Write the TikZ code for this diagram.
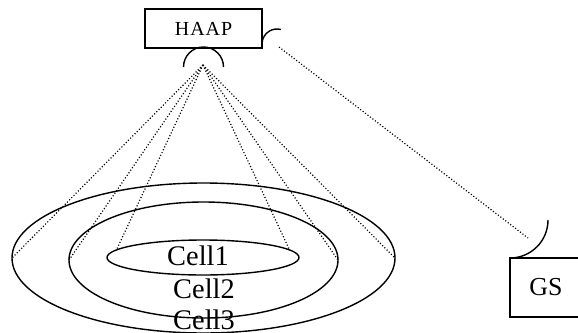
\documentclass[tikz,border=0pt]{standalone}
\usepackage{fontspec}
\setmainfont{Liberation Serif}
\usetikzlibrary{shapes.geometric}

\begin{document}
\begin{tikzpicture}[x=1bp, y=1bp,
    cell/.style={draw, ellipse, line width=1.4bp, inner sep=0pt, outer sep=0pt},
    station/.style={draw, rectangle, line width=1.4bp, inner sep=0pt, outer sep=0pt},
    celltext/.style={anchor=base, inner sep=0pt, font=\fontsize{28.5}{30}\selectfont},
    beam/.style={line width=1.2bp, dash pattern=on 1.1bp off 2bp},
    dish/.style={line width=1.4bp}]
  \useasboundingbox (0,0) rectangle (578,332);

  % cells
  \node[cell, minimum width=383bp, minimum height=150bp] (cellC) at (203.5,74) {};
  \node[cell, minimum width=269bp, minimum height=116bp] (cellB) at (203.5,72) {};
  \node[cell, minimum width=192bp, minimum height=35bp] (cellA) at (203,74.5) {};
  \node[celltext] (lblA) at (198,67) {Cell1};
  \node[celltext] (lblB) at (204,34) {Cell2};
  \node[celltext] (lblC) at (204,3) {Cell3};

  % stations
  \node[station, minimum width=117bp, minimum height=39bp,
        font=\fontsize{20}{22}\selectfont\addfontfeatures{LetterSpace=5}] (haap) at (203.5,303.5) {HAAP};
  \node[station, minimum width=72bp, minimum height=59bp,
        font=\fontsize{26}{28}\selectfont] (gs) at (546,44.5) {GS};

  % antennas
  \draw[dish] (haap.south) ++(-20bp,-19bp) arc (180:0:20bp);
  \draw[dish] ([yshift=4bp]haap.south east) arc (180:75:15bp);
  \draw[dish] (gs.north west) arc (270:360:38bp);

  % beams
  \coordinate (apex) at (203,267);
  \foreach \t in {cellC.west, cellB.west, cellA.175, cellA.5, cellB.east, cellC.east}
    \draw[beam] (apex) -- (\t);

  \coordinate (linkA) at (279,285);
  \coordinate (linkB) at (528,94);
  \draw[beam] (linkA) -- (linkB);
\end{tikzpicture}
\end{document}
